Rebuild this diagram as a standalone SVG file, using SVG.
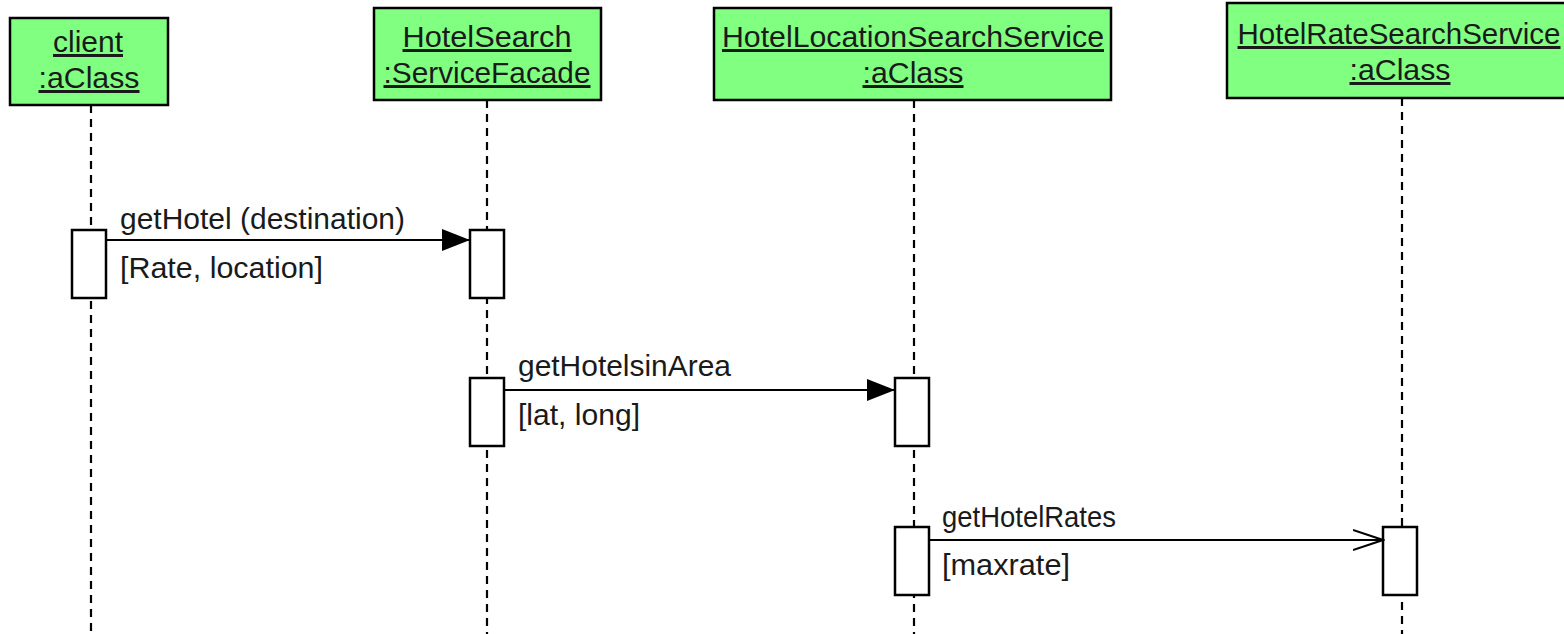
<svg xmlns="http://www.w3.org/2000/svg" width="1564" height="634" viewBox="0 0 1564 634">
<style>
.obj{fill:#80ff80;stroke:#000;stroke-width:2.5}
.act{fill:#fff;stroke:#000;stroke-width:2.5}
.life{stroke:#000;stroke-width:2.2;stroke-dasharray:8 6;fill:none}
.msg{stroke:#000;stroke-width:2;fill:none}
.t{font-family:"Liberation Sans",Arial,sans-serif;font-size:30px;fill:#1a1a1a}
.u{text-decoration:underline}
</style>
<defs>
<marker id="filled" markerUnits="userSpaceOnUse" markerWidth="30" markerHeight="24" refX="28" refY="12" orient="auto">
<path d="M0,1 L28,12 L0,23 Z" fill="#000"/>
</marker>
<marker id="open" markerUnits="userSpaceOnUse" markerWidth="32" markerHeight="24" refX="30" refY="12" orient="auto">
<path d="M0,2 L30,12 L0,22" fill="none" stroke="#000" stroke-width="2"/>
</marker>
</defs>
<rect width="1564" height="634" fill="#fff"/>
<g id="lifelines">
<line class="life" x1="91" y1="105" x2="91" y2="634"/>
<line class="life" x1="487" y1="100" x2="487" y2="634"/>
<line class="life" x1="914" y1="100" x2="914" y2="634"/>
<line class="life" x1="1402" y1="98" x2="1402" y2="634"/>
</g>
<g id="client">
<rect class="obj" x="10" y="18" width="158" height="87"/>
<text class="t u" x="88" y="52" text-anchor="middle" textLength="70" lengthAdjust="spacingAndGlyphs">client</text>
<text class="t u" x="89" y="88" text-anchor="middle" textLength="101" lengthAdjust="spacingAndGlyphs">:aClass</text>
</g>
<g id="hotelSearch">
<rect class="obj" x="374" y="8" width="227" height="92"/>
<text class="t u" x="487" y="47" text-anchor="middle" textLength="169" lengthAdjust="spacingAndGlyphs">HotelSearch</text>
<text class="t u" x="487" y="83" text-anchor="middle" textLength="207" lengthAdjust="spacingAndGlyphs">:ServiceFacade</text>
</g>
<g id="hotelLocationSearchService">
<rect class="obj" x="714" y="8" width="397" height="92"/>
<text class="t u" x="913" y="47" text-anchor="middle" textLength="382" lengthAdjust="spacingAndGlyphs">HotelLocationSearchService</text>
<text class="t u" x="913" y="83" text-anchor="middle" textLength="101" lengthAdjust="spacingAndGlyphs">:aClass</text>
</g>
<g id="hotelRateSearchService">
<rect class="obj" x="1227" y="3" width="345" height="95"/>
<text class="t u" x="1399" y="44" text-anchor="middle" textLength="323" lengthAdjust="spacingAndGlyphs">HotelRateSearchService</text>
<text class="t u" x="1400" y="80" text-anchor="middle" textLength="101" lengthAdjust="spacingAndGlyphs">:aClass</text>
</g>
<g id="activations">
<rect class="act" x="72" y="230" width="34" height="68"/>
<rect class="act" x="470" y="230" width="34" height="68"/>
<rect class="act" x="470" y="378" width="34" height="68"/>
<rect class="act" x="895" y="378" width="34" height="68"/>
<rect class="act" x="895" y="527" width="34" height="68"/>
<rect class="act" x="1383" y="527" width="34" height="68"/>
</g>
<g id="connectors">
<line class="msg" x1="106" y1="240" x2="470" y2="240" marker-end="url(#filled)"/>
<line class="msg" x1="504" y1="390" x2="895" y2="390" marker-end="url(#filled)"/>
<line class="msg" x1="929" y1="540" x2="1383" y2="540" marker-end="url(#open)"/>
</g>
<g id="labels">
<text class="t" x="120" y="229" textLength="285" lengthAdjust="spacingAndGlyphs">getHotel (destination)</text>
<text class="t" x="120" y="278" textLength="203" lengthAdjust="spacingAndGlyphs">[Rate, location]</text>
<text class="t" x="518" y="376" textLength="213" lengthAdjust="spacingAndGlyphs">getHotelsinArea</text>
<text class="t" x="518" y="425" textLength="122" lengthAdjust="spacingAndGlyphs">[lat, long]</text>
<text class="t" x="942" y="527" textLength="174" lengthAdjust="spacingAndGlyphs">getHotelRates</text>
<text class="t" x="942" y="575" textLength="128" lengthAdjust="spacingAndGlyphs">[maxrate]</text>
</g>
</svg>
